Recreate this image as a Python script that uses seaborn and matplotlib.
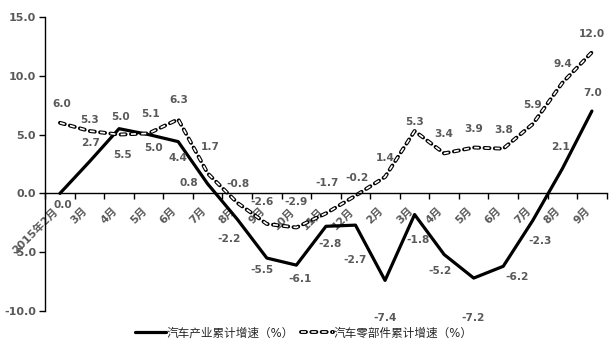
import matplotlib
matplotlib.use('Agg')
import matplotlib.pyplot as plt
import matplotlib.patheffects as pe
import seaborn as sns
import pandas as pd
import numpy as np

categories = ['2015年2月', '3月', '4月', '5月', '6月', '7月', '8月', '9月', '10月', '11月',
              '12月', '2月', '3月', '4月', '5月', '6月', '7月', '8月', '9月']
industry = [0.0, 2.7, 5.5, 5.0, 4.4, 0.8, -2.2, -5.5, -6.1, -2.8, -2.7, -7.4, -1.8,
            -5.2, -7.2, -6.2, -2.3, 2.1, 7.0]
parts = [6.0, 5.3, 5.0, 5.1, 6.3, 1.7, -0.8, -2.6, -2.9, -1.7, -0.2, 1.4, 5.3,
         3.4, 3.9, 3.8, 5.9, 9.4, 12.0]
series_names = ['汽车产业累计增速（%）', '汽车零部件累计增速（%）']
y_ticks = [-10, -5, 0, 5, 10, 15]

# data label offsets in pixels (dx, dy downward)
ind_off = [(3, 12), (1, -19), (3, 26), (5, 13), (0, 16), (-19, -1), (-8, 20), (-5, 12),
           (4, 14), (4, 18), (0, 35), (0, 38), (3, 25), (-4, 16), (-1, 40), (14, 11),
           (7, 21), (-2, -22), (1, -18)]
par_off = [(2, -19), (0, -11), (1, -18), (2, -19), (1, -19), (3, -26), (1, -19), (-5, -22),
           (0, -25), (1, -30), (2, -18), (0, -19), (0, -9), (0, -19), (0, -19), (0, -19),
           (0, -19), (1, -19), (0, -18)]

sns.set_style('white')
plt.rcParams['font.family'] = ['DejaVu Sans', 'Noto Sans CJK SC']

df = pd.DataFrame({'x': np.arange(len(categories)), 'industry': industry, 'parts': parts})

fig = plt.figure(figsize=(6.13, 3.53), dpi=100)
ax = fig.add_axes([0.0737, 0.119, 0.916, 0.833])

sns.lineplot(data=df, x='x', y='industry', ax=ax, color='black', lw=2.3,
             label=series_names[0], legend=False)
sns.lineplot(data=df, x='x', y='parts', ax=ax, color='white', lw=1.2,
             linestyle=(0, (3.0, 3.2)),
             path_effects=[pe.Stroke(linewidth=2.8, foreground='black', capstyle='round'),
                           pe.Normal()],
             label=series_names[1], legend=False)

lab_color = '#595959'
for i, (v, (dx, dy)) in enumerate(zip(industry, ind_off)):
    ax.annotate(f'{v:.1f}', (i, v), xytext=(dx, -dy), textcoords='offset pixels',
                ha='center', va='center', fontsize=7.6, color=lab_color, fontweight='bold')
for i, (v, (dx, dy)) in enumerate(zip(parts, par_off)):
    ax.annotate(f'{v:.1f}', (i, v), xytext=(dx, -dy), textcoords='offset pixels',
                ha='center', va='center', fontsize=7.6, color=lab_color, fontweight='bold')

ax.set_xlim(-0.5, len(categories) - 0.5)
ax.set_ylim(-10, 15)
for s in ['top', 'right']:
    ax.spines[s].set_visible(False)
ax.spines['bottom'].set_position(('data', 0))
for s in ['left', 'bottom']:
    ax.spines[s].set_color('black')
    ax.spines[s].set_linewidth(1.0)

ax.set_xticks(np.arange(len(categories)))
ax.set_xticklabels(categories, rotation=45, ha='right', fontsize=7.8,
                   color=lab_color, fontweight='bold')
ax.set_xticks(np.arange(-0.5, len(categories), 1), minor=True)
ax.tick_params(axis='x', which='major', length=0, pad=9)
ax.tick_params(axis='x', which='minor', length=4, width=1.0, color='black', direction='out',
               bottom=True)
ax.set_yticks(y_ticks)
ax.set_yticklabels([f'{t:.1f}' for t in y_ticks], fontsize=8, color=lab_color,
                   fontweight='bold')
ax.tick_params(axis='y', which='major', length=4.5, width=1.0, color='black',
               direction='out', left=True, pad=2)
ax.set_xlabel('')
ax.set_ylabel('')
ax.grid(False)

handles = ax.get_lines()[:2]
fig.legend(handles, series_names, loc='center', bbox_to_anchor=(0.495, 0.057), ncol=2,
           frameon=False, prop={'size': 8.4, 'weight': 'medium'}, handlelength=2.7,
           handletextpad=0.05, columnspacing=0.6, labelcolor='#262626')

fig.savefig('out.png', dpi=100)
